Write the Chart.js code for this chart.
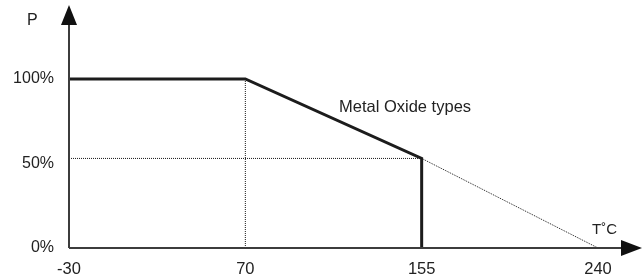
<!DOCTYPE html>
<html>
<head>
<meta charset="utf-8">
<script src="https://cdn.jsdelivr.net/npm/chart.js@4/dist/chart.umd.min.js"></script>
<style>
  html, body { margin: 0; padding: 0; background: #fff; }
  #wrap { width: 643px; height: 277px; }
</style>
</head>
<body>
<div id="wrap"><canvas id="derating" width="643" height="277"></canvas></div>
<script>
// temperatures on the x axis (schematic, evenly spaced)
const temps = ['-30', '70', '155', '240'];
const yTicks = [0, 50, 100];

// main derating curve (solid)
const curveT = ['-30', '70', '155', '155'];
const curveP = [100, 100, 53, 0];

// extrapolated tail (dotted)
const tailT = ['155', '240'];
const tailP = [53, 0];

// guide lines (dotted)
const hGuideT = ['-30', '155'];
const hGuideP = [53, 53];
const vGuideT = ['70', '70'];
const vGuideP = [100, 0];

const FONT = "'Liberation Sans', Arial, sans-serif";

function pts(t, p) {
    return t.map((x, i) => ({ x: x, y: p[i] }));
}

function dotted() {
    return {
        borderColor: '#1a1a1a',
        borderWidth: 1,
        borderDash: [1, 1],
        pointRadius: 0,
        clip: false,
        order: 1
    };
}

// axes with arrow heads + free labels
const axesPlugin = {
    id: 'axesPlugin',
    afterDraw(chart) {
        const ctx = chart.ctx;
        const a = chart.chartArea;
        ctx.save();
        ctx.strokeStyle = '#3c3c3c';
        ctx.fillStyle = '#111';
        ctx.lineWidth = 2;
        // y axis
        ctx.beginPath();
        ctx.moveTo(a.left, a.bottom);
        ctx.lineTo(a.left, 24);
        ctx.stroke();
        ctx.beginPath();
        ctx.moveTo(a.left, 5);
        ctx.lineTo(a.left - 8, 25);
        ctx.lineTo(a.left + 8, 25);
        ctx.closePath();
        ctx.fill();
        // x axis
        ctx.beginPath();
        ctx.moveTo(a.left, a.bottom);
        ctx.lineTo(622, a.bottom);
        ctx.stroke();
        ctx.beginPath();
        ctx.moveTo(642, a.bottom);
        ctx.lineTo(621, a.bottom - 8);
        ctx.lineTo(621, a.bottom + 8);
        ctx.closePath();
        ctx.fill();

        ctx.fillStyle = '#222';
        ctx.textBaseline = 'alphabetic';
        ctx.textAlign = 'left';
        ctx.font = '16px ' + FONT;
        ctx.fillText('P', 27, 25);
        ctx.font = '15px ' + FONT;
        ctx.fillText('T\u02DAC', 592, 234);
        ctx.font = '16.5px ' + FONT;
        ctx.fillText('Metal Oxide types', 339, 112);
        ctx.restore();
    }
};

new Chart(document.getElementById('derating'), {
    type: 'line',
    data: {
        labels: temps,
        datasets: [
            Object.assign({ data: pts(curveT, curveP) }, {
                borderColor: '#1c1c1c',
                borderWidth: 3,
                pointRadius: 0,
                clip: false,
                order: 0
            }),
            Object.assign({ data: pts(tailT, tailP) }, dotted()),
            Object.assign({ data: pts(hGuideT, hGuideP) }, dotted()),
            Object.assign({ data: pts(vGuideT, vGuideP) }, dotted())
        ]
    },
    options: {
        responsive: false,
        animation: false,
        layout: { padding: { top: 79, right: 45, left: 0, bottom: 0 } },
        plugins: {
            legend: { display: false },
            tooltip: { enabled: false }
        },
        scales: {
            x: {
                type: 'category',
                offset: false,
                grid: { display: false, drawTicks: false },
                border: { display: false },
                ticks: {
                    color: '#222',
                    font: { family: FONT, size: 16.5 },
                    padding: 12,
                    maxRotation: 0,
                    autoSkip: false
                },
                afterFit(scale) { scale.height = 29; }
            },
            y: {
                min: 0,
                max: 100,
                grid: { display: false, drawTicks: false },
                border: { display: false },
                afterBuildTicks(scale) {
                    scale.ticks = yTicks.map(v => ({ value: v }));
                },
                ticks: {
                    color: '#222',
                    font: { family: FONT, size: 16 },
                    padding: 15,
                    callback: v => v + '%'
                },
                afterFit(scale) { scale.width = 69; }
            }
        }
    },
    plugins: [axesPlugin]
});
</script>
</body>
</html>
